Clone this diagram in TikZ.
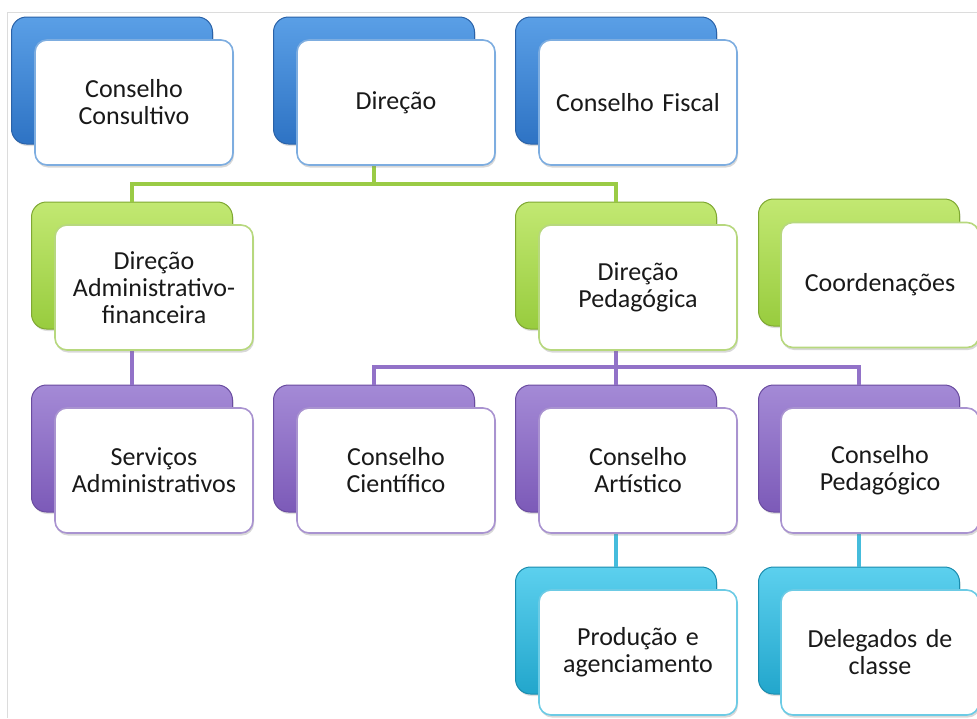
\documentclass[tikz,border=0pt]{standalone}
\usepackage{fontspec}
\setmainfont{Carlito}
\usetikzlibrary{shadows}
\definecolor{bluetop}{HTML}{5A9FE6}
\definecolor{bluebot}{HTML}{2E73C4}
\definecolor{blueedge}{HTML}{2A62A8}
\definecolor{bluefront}{HTML}{7DADE0}
\definecolor{greentop}{HTML}{C2E872}
\definecolor{greenbot}{HTML}{98CC3E}
\definecolor{greenedge}{HTML}{7FA832}
\definecolor{greenfront}{HTML}{B7D87E}
\definecolor{greenline}{HTML}{9ACB45}
\definecolor{purptop}{HTML}{A48AD6}
\definecolor{purpbot}{HTML}{7C5AB8}
\definecolor{purpedge}{HTML}{6A4CA0}
\definecolor{purpfront}{HTML}{A993D0}
\definecolor{purpline}{HTML}{9272C8}
\definecolor{cyantop}{HTML}{5CD0EE}
\definecolor{cyanbot}{HTML}{22A6CC}
\definecolor{cyanedge}{HTML}{1A8CAE}
\definecolor{cyanfront}{HTML}{6CCBE5}
\definecolor{cyanline}{HTML}{45BCDC}
\definecolor{frame}{HTML}{DCDCDC}
\tikzset{
  backbox/.style={rounded corners=15pt, minimum width=201pt, minimum height=127pt,
    line width=1pt, drop shadow={shadow xshift=1pt, shadow yshift=-2pt, opacity=0.25}},
  bback/.style={backbox, top color=bluetop, bottom color=bluebot, draw=blueedge},
  gback/.style={backbox, top color=greentop, bottom color=greenbot, draw=greenedge},
  pback/.style={backbox, top color=purptop, bottom color=purpbot, draw=purpedge},
  cback/.style={backbox, top color=cyantop, bottom color=cyanbot, draw=cyanedge},
  frontbox/.style={rounded corners=12pt, minimum width=198pt, minimum height=125pt,
    fill=white, line width=1.6pt, align=center, text width=188pt, inner sep=3pt,
    font=\fontsize{26}{27}\selectfont, text=black!90,
    drop shadow={shadow xshift=1pt, shadow yshift=-2.5pt, opacity=0.3}},
  bfront/.style={frontbox, draw=bluefront},
  gfront/.style={frontbox, draw=greenfront},
  pfront/.style={frontbox, draw=purpfront},
  cfront/.style={frontbox, draw=cyanfront},
  conn/.style={line width=4pt},
  gconn/.style={conn, draw=greenline},
  pconn/.style={conn, draw=purpline},
  cconn/.style={conn, draw=cyanline},
  frameline/.style={draw=frame, line width=1pt}
}
\begin{document}
\begin{tikzpicture}[x=1pt,y=-1pt]
\useasboundingbox (0,0) rectangle (977,718);
\fill[white] (0,0) rectangle (977,718);
\coordinate (fa) at (7,718);
\coordinate (fb) at (7,12);
\coordinate (fc) at (977,12);
\draw[frameline] (fa) -- (fb) -- (fc);

% back boxes
\node[bback] (bCons) at (112,80.5) {};
\node[bback] (bDir) at (374,80.5) {};
\node[bback] (bFis) at (616,80.5) {};
\node[gback] (bAdm) at (132,265.5) {};
\node[gback] (bPed) at (616,265.5) {};
\node[gback] (bCoo) at (859,262.5) {};
\node[pback] (bSer) at (132,448.5) {};
\node[pback] (bCie) at (374,448.5) {};
\node[pback] (bArt) at (616,448.5) {};
\node[pback] (bCPe) at (859,448.5) {};
\node[cback] (bPro) at (616,630.5) {};
\node[cback] (bDel) at (859,630.5) {};

% connectors (drawn below the front boxes)
\coordinate (gbus) at (374,184);
\coordinate (pbus) at (616,367);
\draw[gconn] (bDir.south) -- (gbus) -| (bAdm.north);
\draw[gconn] (gbus) -| (bPed.north);
\draw[pconn] (bAdm.south) -- (bSer.north);
\draw[pconn] (bPed.south) -- (pbus) -| (bCie.north);
\draw[pconn] (pbus) -| (bCPe.north);
\draw[pconn] (pbus) -- (bArt.north);
\draw[cconn] (bArt.south) -- (bPro.north);
\draw[cconn] (bCPe.south) -- (bDel.north);

% front boxes
\node[bfront] (fCons) at (134,102.5) {Conselho\\Consultivo};
\node[bfront] (fDir) at (396,102.5) {Direção};
\node[bfront] (fFis) at (638,102.5) {Conselho Fiscal};
\node[gfront] (fAdm) at (154,287.5) {Direção\\Administrativo-\\financeira};
\node[gfront] (fPed) at (638,287.5) {Direção\\Pedagógica};
\node[gfront] (fCoo) at (880,285) {Coordenações};
\node[pfront] (fSer) at (154,470.5) {Serviços\\Administrativos};
\node[pfront] (fCie) at (396,470.5) {Conselho\\Científico};
\node[pfront] (fArt) at (638,470.5) {Conselho\\Artístico};
\node[pfront] (fCPe) at (880,470.5) {Conselho\\Pedagógico};
\node[cfront] (fPro) at (638,652.5) {Produção e\\agenciamento};
\node[cfront] (fDel) at (880,652.5) {Delegados de\\classe};
\end{tikzpicture}
\end{document}
